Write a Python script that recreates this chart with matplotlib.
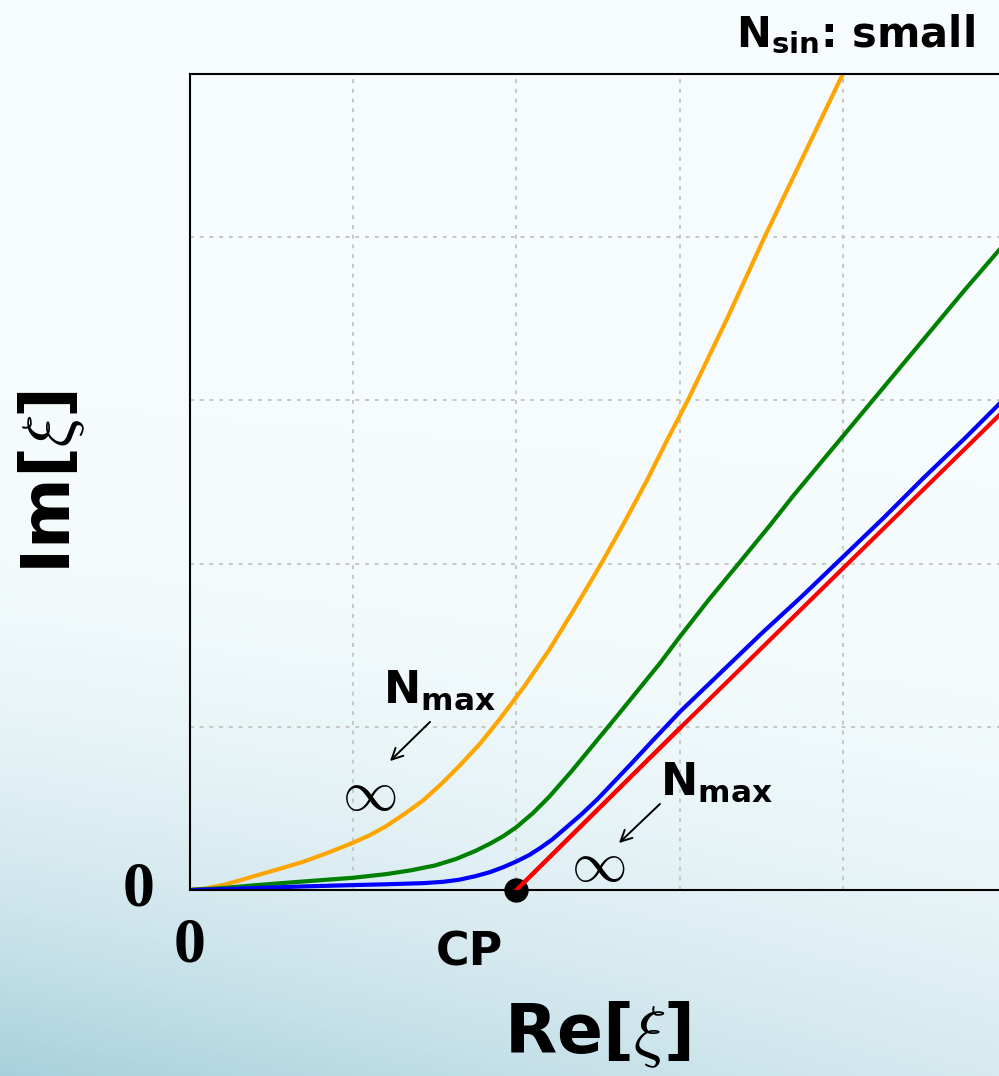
import numpy as np
import matplotlib
matplotlib.use("Agg")
import matplotlib.pyplot as plt

# curves (x = Re, y = Im, grid units)
orange_x = [0, 0.1, 0.2, 0.3, 0.41, 0.55, 0.7, 0.85, 1.0, 1.1, 1.2, 1.32, 1.43, 1.54, 1.65, 1.78,
            1.9, 2.05, 2.2, 2.36, 2.52, 2.66, 2.8, 2.92, 3.05, 3.18, 3.3, 3.41, 3.52, 3.64, 3.76,
            3.88, 4.0, 4.05]
orange_y = [0, 0.01, 0.03, 0.057, 0.09, 0.13, 0.175, 0.23, 0.29, 0.335, 0.39, 0.47, 0.55, 0.65,
            0.76, 0.9, 1.05, 1.25, 1.47, 1.73, 2.0, 2.25, 2.51, 2.75, 3.0, 3.27, 3.52, 3.76, 4.0,
            4.25, 4.5, 4.75, 5.0, 5.1]

green_x = [0, 0.2, 0.41, 0.6, 0.8, 1.0, 1.2, 1.35, 1.5, 1.63, 1.75, 1.84, 1.92, 2.0, 2.1, 2.2,
           2.34, 2.48, 2.62, 2.75, 2.88, 3.0, 3.18, 3.37, 3.55, 3.7, 3.85, 4.0, 4.25, 4.5, 4.75, 5.0]
green_y = [0, 0.012, 0.03, 0.045, 0.06, 0.075, 0.097, 0.12, 0.15, 0.19, 0.24, 0.285, 0.33, 0.385,
           0.47, 0.57, 0.73, 0.9, 1.07, 1.23, 1.39, 1.55, 1.78, 2.01, 2.23, 2.42, 2.6, 2.78, 3.08,
           3.38, 3.68, 3.97]

blue_x = [0, 0.2, 0.4, 0.7, 1.0, 1.2, 1.43, 1.55, 1.65, 1.75, 1.84, 1.92, 2.0, 2.08, 2.15, 2.22,
          2.29, 2.4, 2.5, 2.6, 2.7, 2.83, 3.0, 3.25, 3.5, 3.75, 4.0, 4.25, 4.5, 4.75, 5.0]
blue_y = [0, 0.005, 0.012, 0.022, 0.03, 0.035, 0.042, 0.05, 0.063, 0.085, 0.11, 0.14, 0.175,
          0.215, 0.26, 0.31, 0.37, 0.465, 0.56, 0.665, 0.77, 0.91, 1.09, 1.33, 1.57, 1.8, 2.04,
          2.28, 2.53, 2.77, 3.02]

red_x = [2.0, 3.0, 4.0, 5.0]
red_y = [0.0, 0.99, 1.97, 2.95]

cp = (2.0, 0.0)
grid_ticks = [1, 2, 3, 4]

W, H = 999, 1076
fig = plt.figure(figsize=(W / 100, H / 100), dpi=100)

# soft background gradient: near white on top, light blue towards the bottom left
bg = fig.add_axes([0, 0, 1, 1], zorder=-10)
bg.axis("off")
yy, xx = np.mgrid[0:1:300j, 0:1:300j]
w = np.clip((yy - 0.45 + 0.08 * (1 - xx)) / 0.63, 0, 1) ** 2.2 * (1 - 0.45 * xx)
top = np.array([246, 252, 253]) / 255
bot = np.array([168, 208, 220]) / 255
img = top + (bot - top) * w[..., None]
bg.imshow(img, aspect="auto", extent=[0, 1, 0, 1], origin="upper")
bg.set_xlim(0, 1)
bg.set_ylim(0, 1)

ax = fig.add_axes([190 / W, 186 / H, 816 / W, 816 / H])
ax.set_facecolor("none")
ax.set_xlim(0, 5)
ax.set_ylim(0, 5)
ax.set_xticks(grid_ticks)
ax.set_yticks(grid_ticks)
ax.tick_params(length=0, labelbottom=False, labelleft=False)
ax.grid(True, color="#c6c6c6", linestyle=(0, (2, 3)), linewidth=1.4)
for s in ax.spines.values():
    s.set_linewidth(1.5)
    s.set_color("black")

ax.plot(orange_x, orange_y, color="orange", lw=3)
ax.plot(green_x, green_y, color="green", lw=3)
ax.plot(blue_x, blue_y, color="blue", lw=3)
ax.plot(red_x, red_y, color="red", lw=3)
ax.plot(*cp, "o", color="black", markersize=16.5, clip_on=False, zorder=5)
ax.plot(red_x[:2], red_y[:2], color="red", lw=3, zorder=6)

# annotations
ax.text(1.183, 1.146, r"N$_{\mathbf{max}}$", fontsize=32, fontweight="bold",
        math_fontfamily="dejavusans", ha="left", va="baseline")
ax.text(2.88, 0.582, r"N$_{\mathbf{max}}$", fontsize=32, fontweight="bold",
        math_fontfamily="dejavusans", ha="left", va="baseline")
ax.text(1.097, 0.582, r"$\infty$", fontsize=40, math_fontfamily="cm", ha="center", va="center")
ax.text(2.5, 0.147, r"$\infty$", fontsize=40, math_fontfamily="cm", ha="center", va="center")
ax.annotate("", xy=(1.213, 0.778), xytext=(1.483, 1.042),
            arrowprops=dict(arrowstyle="->", color="black", lw=1.4, mutation_scale=20))
ax.annotate("", xy=(2.616, 0.276), xytext=(2.892, 0.539),
            arrowprops=dict(arrowstyle="->", color="black", lw=1.4, mutation_scale=20))

# tick-like labels
fig.text(139 / W, 1 - 891 / H, "0", fontsize=46, family="Liberation Serif", fontweight="bold",
         ha="center", va="center")
fig.text(190 / W, 1 - 947 / H, "0", fontsize=46, family="Liberation Serif", fontweight="bold",
         ha="center", va="center")
fig.text(469 / W, 1 - 965 / H, "CP", fontsize=33, fontweight="bold", ha="center", va="baseline")

fig.text(975 / W, 1 - 47 / H, r"N$_{\mathbf{sin}}$: small", fontsize=30, fontweight="bold",
         math_fontfamily="dejavusans", ha="right", va="baseline")

fig.text(597 / W, 1 - 1035 / H, r"Re[$\xi$]", fontsize=49, fontweight="bold",
         math_fontfamily="cm", ha="center", va="center")
fig.text(52 / W, 1 - 482 / H, r"Im[$\xi$]", fontsize=49, fontweight="bold",
         math_fontfamily="cm", ha="center", va="center", rotation=90)

fig.savefig("out.png", dpi=100)
